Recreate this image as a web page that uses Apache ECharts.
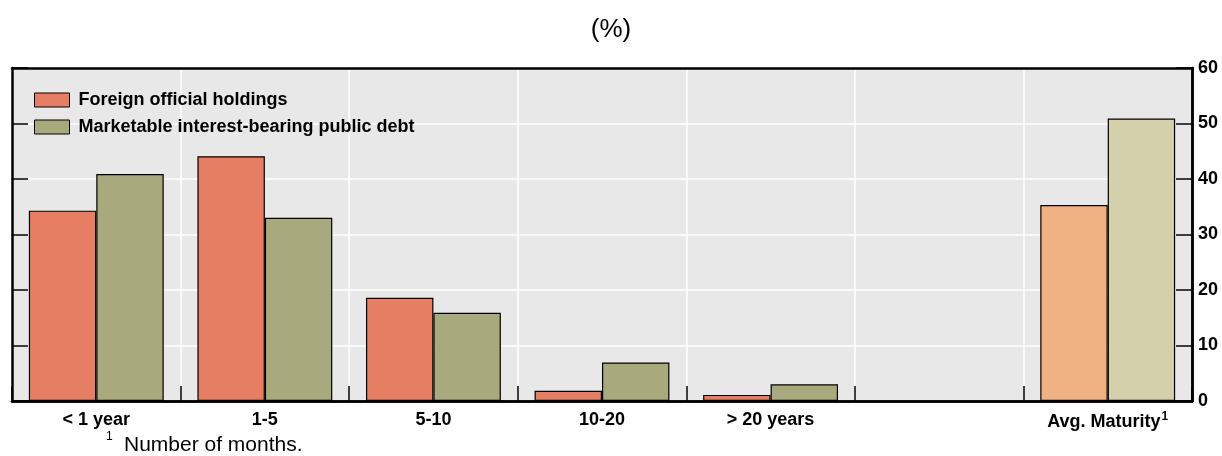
<!DOCTYPE html>
<html><head><meta charset="utf-8">
<script src="https://cdn.jsdelivr.net/npm/echarts@6/dist/echarts.min.js"></script>
<style>html,body{margin:0;padding:0;background:#fff}#c{width:1222px;height:456px}</style>
</head><body><div id="c"></div>
<script>
const categories = ['< 1 year', '1-5', '5-10', '10-20', '> 20 years', '', 'Avg. Maturity'];
const foreignOfficial = [34.3, 44.1, 18.6, 1.85, 1.1, null, 35.3];
const marketableDebt = [40.9, 33.0, 15.9, 6.95, 3.0, null, 50.9];
const yTicks = [0, 10, 20, 30, 40, 50, 60];

const C1 = '#E57E62', C2 = '#A8A97C', C1L = '#F0B183', C2L = '#D3D0AB';
const FONT = 'Liberation Sans';
const chart = echarts.init(document.getElementById('c'));
function mk(vals, c, cl) {
  return vals.map((v, i) => ({ value: v, itemStyle: { color: i === categories.length - 1 ? cl : c } }));
}
chart.setOption({
  animation: false,
  title: { text: '(%)', left: 'center', top: 12, textStyle: { fontFamily: FONT, fontSize: 26, fontWeight: 'normal', color: '#000' } },
  graphic: [{ type: 'text', left: 106, top: 431, style: { text: '1', font: '12px Liberation Sans', fill: '#000' } },
            { type: 'text', left: 124, top: 435, style: { text: 'Number of months.', font: '21px Liberation Sans', fill: '#000' } }],
  legend: {
    orient: 'vertical', left: 29, top: 86, itemWidth: 35, itemHeight: 14, itemGap: 9, icon: 'rect',
    textStyle: { fontFamily: FONT, fontSize: 18, fontWeight: 'bold', color: '#000', padding: [0, 0, 0, 4] },
    data: [{ name: 'Foreign official holdings', itemStyle: { color: C1, borderColor: '#000', borderWidth: 1 } },
           { name: 'Marketable interest-bearing public debt', itemStyle: { color: C2, borderColor: '#000', borderWidth: 1 } }]
  },
  grid: { left: 12, right: 30, top: 68, bottom: 55, show: true, backgroundColor: '#E8E8E8', borderWidth: 0 },
  xAxis: [{
    type: 'category', data: categories,
    axisLine: { lineStyle: { color: '#000', width: 2.5 } },
    axisTick: { show: false },
    splitLine: { show: true, interval: 0, lineStyle: { color: '#fff', width: 1.5 } },
    axisLabel: { interval: 0, margin: 10, fontFamily: FONT, fontSize: 18, fontWeight: 'bold', color: '#000',
      formatter: v => v === 'Avg. Maturity' ? '{b|Avg. Maturity}{s|1}' : v,
      rich: { b: { fontFamily: FONT, fontSize: 18, fontWeight: 'bold', color: '#000' },
              s: { fontFamily: FONT, fontSize: 12, fontWeight: 'bold', color: '#000', verticalAlign: 'top', padding: [0, 0, 10, 1] } } }
  }, {
    type: 'category', data: categories, position: 'top', z: 5,
    axisLine: { show: true, onZero: false, lineStyle: { color: '#000', width: 2.5 } },
    axisTick: { show: false }, axisLabel: { show: false }, splitLine: { show: false }
  }, {
    type: 'category', data: categories, position: 'bottom', z: 5,
    axisLine: { show: true, onZero: false, lineStyle: { color: '#000', width: 2.5 } },
    axisTick: { show: true, interval: 0, inside: true, length: 15, lineStyle: { color: '#000', width: 1.5 } },
    axisLabel: { show: false }, splitLine: { show: false }
  }],
  yAxis: [{
    type: 'value', position: 'right', min: 0, max: 60, interval: 10,
    axisLine: { show: true, onZero: false, lineStyle: { color: '#000', width: 2.5 } },
    axisTick: { show: false },
    splitLine: { show: true, lineStyle: { color: '#fff', width: 1.5 } },
    axisLabel: { margin: 6, fontFamily: FONT, fontSize: 18, fontWeight: 'bold', color: '#000',
      formatter: v => yTicks.includes(v) ? String(v) : '' }
  }, {
    type: 'value', position: 'right', min: 0, max: 60, interval: 10, z: 5,
    axisLine: { show: true, onZero: false, lineStyle: { color: '#000', width: 2.5 } },
    axisTick: { show: true, inside: true, length: 16, lineStyle: { color: '#000', width: 1.5 } },
    splitLine: { show: false }, axisLabel: { show: false }
  }, {
    type: 'value', position: 'left', min: 0, max: 60, interval: 10, z: 5,
    axisLine: { show: true, onZero: false, lineStyle: { color: '#000', width: 2.5 } },
    axisTick: { show: true, inside: true, length: 16, lineStyle: { color: '#000', width: 1.5 } },
    splitLine: { show: false }, axisLabel: { show: false }
  }],
  series: [
    { name: 'Foreign official holdings', type: 'bar', data: mk(foreignOfficial, C1, C1L), barGap: '0%', barCategoryGap: '20%',
      itemStyle: { borderColor: '#000', borderWidth: 1.2 } },
    { name: 'Marketable interest-bearing public debt', type: 'bar', data: mk(marketableDebt, C2, C2L),
      itemStyle: { borderColor: '#000', borderWidth: 1.2 } }
  ]
});
</script></body></html>
